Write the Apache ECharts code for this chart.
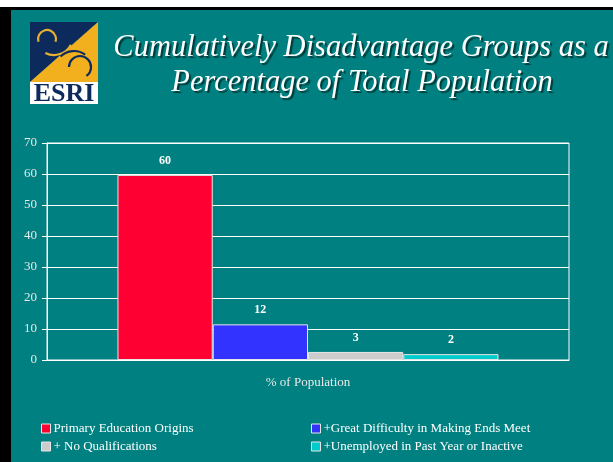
<!DOCTYPE html>
<html>
<head>
<meta charset="utf-8">
<script src="https://cdn.jsdelivr.net/npm/echarts@6/dist/echarts.min.js"></script>
<style>
html,body{margin:0;padding:0;background:#008080;}
#chart{width:613px;height:462px;}
</style>
</head>
<body>
<div id="chart"></div>
<script>
var categories = ['% of Population'];
var seriesNames = ['Primary Education Origins', '+Great Difficulty in Making Ends Meet', '+ No Qualifications', '+Unemployed in Past Year or Inactive'];
var seriesValues = [59.7, 11.5, 2.6, 1.9];
var seriesColors = ['#ff0033', '#3333ff', '#cccccc', '#00cccc'];
var yTicks = [0, 10, 20, 30, 40, 50, 60, 70];
var titleLines = ['Cumulatively Disadvantage Groups as a', 'Percentage of Total Population'];

var serif = 'Liberation Serif';
var chart = echarts.init(document.getElementById('chart'));

var series = seriesNames.map(function (n, i) {
  return {
    name: n,
    type: 'bar',
    data: [seriesValues[i]],
    barGap: '0%',
    barCategoryGap: '27%',
    itemStyle: { color: seriesColors[i], borderColor: '#e6e6e6', borderWidth: 1 },
    label: {
      show: true, position: 'top', distance: 8,
      color: '#ffffff', fontFamily: serif, fontWeight: 'bold', fontSize: 12,
      formatter: function (p) { return Math.round(p.value); }
    }
  };
});

var legendCommon = {
  orient: 'vertical', itemWidth: 9, itemHeight: 9, itemGap: 5, icon: 'rect',
  textStyle: { color: '#ffffff', fontFamily: serif, fontSize: 13, padding: [0, 0, 0, -2] },
  itemStyle: { borderColor: '#e6e6e6', borderWidth: 1 }
};

var titleStyle = {
  fill: '#ffffff', align: 'center', verticalAlign: 'middle',
  fontFamily: serif, fontStyle: 'italic', fontSize: 30.5,
  textShadowColor: 'rgba(0,0,0,0.55)', textShadowOffsetX: 2, textShadowOffsetY: 2, textShadowBlur: 1
};

var option = {
  backgroundColor: '#008080',
  animation: false,
  grid: { left: 47, right: 44, top: 143, bottom: 102, show: true, borderColor: '#ffffff', borderWidth: 1, containLabel: false },
  legend: [
    Object.assign({}, legendCommon, { left: 36, top: 417, data: [seriesNames[0], seriesNames[2]] }),
    Object.assign({}, legendCommon, { left: 306, top: 417, data: [seriesNames[1], seriesNames[3]] })
  ],
  xAxis: {
    type: 'category', data: categories,
    axisLine: { lineStyle: { color: '#ffffff' } },
    axisTick: { show: false },
    axisLabel: { color: '#e8e8e8', fontFamily: serif, fontSize: 13, margin: 16 }
  },
  yAxis: {
    type: 'value', min: yTicks[0], max: yTicks[yTicks.length - 1], interval: 10,
    axisLine: { show: true, lineStyle: { color: '#ffffff' } },
    axisTick: { show: true, length: 5, lineStyle: { color: '#ffffff' } },
    splitLine: { lineStyle: { color: '#ffffff', width: 1 } },
    axisLabel: { color: '#e8e8e8', fontFamily: serif, fontSize: 13, margin: 10 }
  },
  series: series,
  graphic: [
    { type: 'rect', left: 0, top: 0, shape: { width: 613, height: 7 }, style: { fill: '#ffffff' }, silent: true },
    { type: 'rect', left: 0, top: 7, shape: { width: 613, height: 3 }, style: { fill: '#000000' }, silent: true },
    { type: 'rect', left: 0, top: 7, shape: { width: 11, height: 455 }, style: { fill: '#000000' }, silent: true },
    {
      type: 'group', left: 30, top: 22, silent: true,
      children: [
        { type: 'polygon', shape: { points: [[0, 0], [68, 0], [0, 60]] }, style: { fill: '#0d2a5c' } },
        { type: 'polygon', shape: { points: [[68, 0], [68, 60], [0, 60]] }, style: { fill: '#f2b01e' } },
        { type: 'arc', shape: { cx: 17, cy: 17, r: 9, startAngle: Math.PI * 0.9, endAngle: Math.PI * 2.1 }, style: { stroke: '#e6b030', lineWidth: 2.2, fill: null } },
        { type: 'arc', shape: { cx: 24, cy: 14, r: 19, startAngle: Math.PI * 0.15, endAngle: Math.PI * 0.65 }, style: { stroke: '#e6b030', lineWidth: 2.2, fill: null } },
        { type: 'arc', shape: { cx: 50, cy: 45, r: 11, startAngle: Math.PI * 1.0, endAngle: Math.PI * 2.3 }, style: { stroke: '#0d2a5c', lineWidth: 2.2, fill: null } },
        { type: 'arc', shape: { cx: 44, cy: 48, r: 19, startAngle: Math.PI * 1.25, endAngle: Math.PI * 1.7 }, style: { stroke: '#0d2a5c', lineWidth: 2.2, fill: null } },
        { type: 'rect', shape: { x: 0, y: 60, width: 68, height: 22 }, style: { fill: '#ffffff' } },
        { type: 'text', x: 34, y: 72, style: { text: 'ESRI', fill: '#0d2a5c', fontFamily: serif, fontWeight: 'bold', fontSize: 26, align: 'center', verticalAlign: 'middle' } }
      ]
    },
    { type: 'text', x: 361, y: 48, silent: true, style: Object.assign({ text: titleLines[0] }, titleStyle) },
    { type: 'text', x: 362, y: 83, silent: true, style: Object.assign({ text: titleLines[1] }, titleStyle) }
  ]
};
chart.setOption(option);
</script>
</body>
</html>
